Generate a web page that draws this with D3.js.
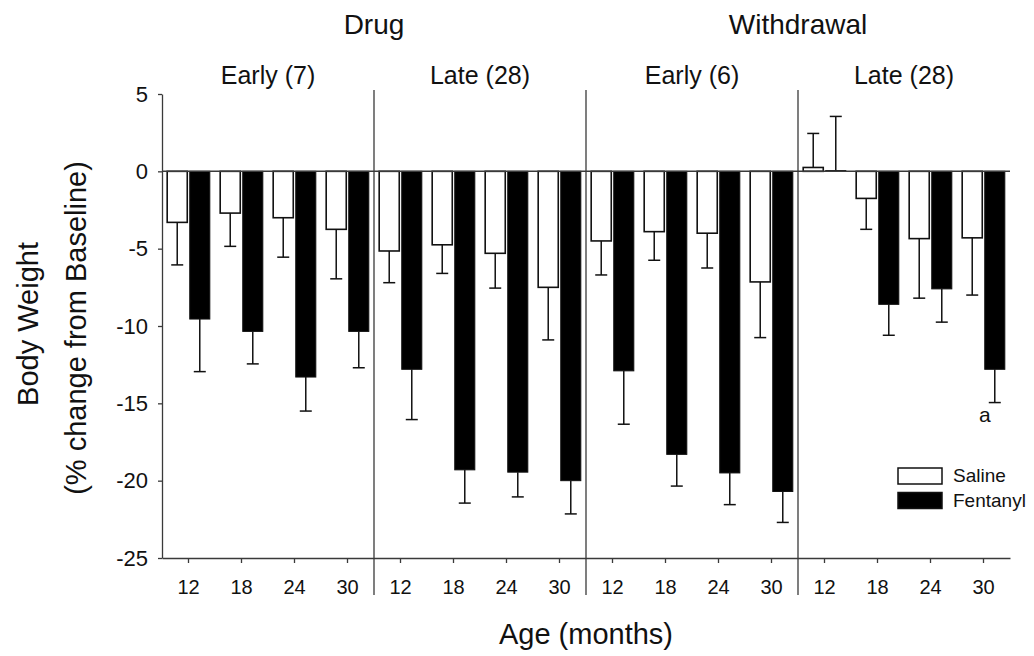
<!DOCTYPE html>
<html><head><meta charset="utf-8">
<script src="https://cdn.jsdelivr.net/npm/d3@7"></script>
<style>
body{margin:0;background:#fff}
svg{display:block}
text{font-family:"Liberation Sans",Arial,sans-serif;fill:#111}
</style>
</head><body>
<svg id="c" width="1034" height="656"></svg>
<script>
// ---- data ----
const phases = ["Drug", "Withdrawal"];
const periods = ["Early (7)", "Late (28)", "Early (6)", "Late (28)"];
const ages = ["12", "18", "24", "30"];
const series = ["Saline", "Fentanyl"];
const salineMean   = [-3.3, -2.7, -3.0, -3.75,  -5.15, -4.75, -5.3, -7.5,  -4.5, -3.9, -4.0, -7.15,  0.25, -1.75, -4.35, -4.3];
const salineSem    = [ 2.75, 2.15, 2.55, 3.2,    2.05,  1.85,  2.25, 3.4,   2.2,  1.85, 2.25, 3.6,   2.2,  2.0,   3.85,  3.7];
const fentanylMean = [-9.55, -10.35, -13.3, -10.35,  -12.8, -19.3, -19.45, -20.0,  -12.9, -18.3, -19.5, -20.7,  0.05, -8.6, -7.6, -12.8];
const fentanylSem  = [ 3.4,   2.1,    2.2,   2.35,    3.25,  2.15,  1.6,    2.15,   3.45,  2.05,  2.05,  2.0,   3.5,  2.0,  2.15,  2.15];
const yTicks = [5, 0, -5, -10, -15, -20, -25];
const annotations = [{ index: 15, series: "Fentanyl", label: "a" }];
const yTitle = ["Body Weight", "(% change from Baseline)"];
const xTitle = "Age (months)";

// ---- layout ----
const svg = d3.select("#c");
const lineCol = "#3a3a3a";
const keys = periods.flatMap((p, i) => ages.map(a => i + "|" + a));
const x = d3.scaleBand().domain(keys).range([162, 1010]);
const x1 = d3.scaleBand().domain(series).range([0, x.bandwidth()]).paddingInner(0.11).paddingOuter(0.23);
const y = d3.scaleLinear().domain([-25, 5]).range([558, 94]);

const rows = keys.map((k, i) => ({
  key: k,
  vals: [
    { s: "Saline", m: salineMean[i], e: salineSem[i] },
    { s: "Fentanyl", m: fentanylMean[i], e: fentanylSem[i] }
  ]
}));
const fillOf = s => s === "Saline" ? "#fff" : "#000";

// panel dividers
const divX = [1, 2, 3].map(i => x(keys[i * 4]));
svg.append("g").selectAll("line").data(divX).join("line")
  .attr("x1", d => d).attr("x2", d => d).attr("y1", 90).attr("y2", 595)
  .attr("stroke", lineCol).attr("stroke-width", 1.3);

// y axis
const gy = svg.append("g").attr("transform", "translate(162,0)")
  .call(d3.axisLeft(y).tickValues(yTicks).tickFormat(d => String(d)).tickSize(4).tickSizeOuter(0).tickPadding(10));
gy.selectAll("text").style("font-size", "22px").style("font-family", '"Liberation Sans",Arial,sans-serif').attr("fill", "#111");
gy.selectAll("line,path").attr("stroke", lineCol).attr("stroke-width", 1.3);

// x axis
const gx = svg.append("g").attr("transform", "translate(0,558)")
  .call(d3.axisBottom(x).tickFormat(k => k.split("|")[1]).tickSize(5).tickSizeOuter(0).tickPadding(17));
gx.selectAll("text").style("font-size", "20px").style("font-family", '"Liberation Sans",Arial,sans-serif').attr("fill", "#111");
gx.selectAll("line,path").attr("stroke", lineCol).attr("stroke-width", 1.3);

// bars
const groups = svg.append("g").selectAll("g").data(rows).join("g")
  .attr("transform", d => `translate(${x(d.key)},0)`);
groups.selectAll("rect").data(d => d.vals).join("rect")
  .attr("x", d => x1(d.s))
  .attr("width", x1.bandwidth())
  .attr("y", d => y(Math.max(0, d.m)))
  .attr("height", d => Math.abs(y(d.m) - y(0)))
  .attr("fill", d => fillOf(d.s))
  .attr("stroke", "#111")
  .attr("stroke-width", d => d.s === "Saline" ? 1.6 : 1);

// error bars
const eb = groups.selectAll("g.eb").data(d => d.vals).join("g").attr("class", "eb");
const endOf = d => d.m < 0 ? d.m - d.e : d.m + d.e;
eb.append("line")
  .attr("x1", d => x1(d.s) + x1.bandwidth() / 2).attr("x2", d => x1(d.s) + x1.bandwidth() / 2)
  .attr("y1", d => y(d.m)).attr("y2", d => y(endOf(d)))
  .attr("stroke", "#111").attr("stroke-width", 1.5);
eb.append("line")
  .attr("x1", d => x1(d.s) + x1.bandwidth() / 2 - 6).attr("x2", d => x1(d.s) + x1.bandwidth() / 2 + 6)
  .attr("y1", d => y(endOf(d))).attr("y2", d => y(endOf(d)))
  .attr("stroke", "#111").attr("stroke-width", 1.5);

// zero line
svg.append("line").attr("x1", 162).attr("x2", 1010).attr("y1", y(0)).attr("y2", y(0))
  .attr("stroke", lineCol).attr("stroke-width", 1.5);

// annotation
annotations.forEach(a => {
  const r = rows[a.index].vals.find(v => v.s === a.series);
  svg.append("text")
    .attr("x", x(rows[a.index].key) + x1(a.series) + x1.bandwidth() / 2 - 10)
    .attr("y", y(endOf(r)) + 19)
    .attr("text-anchor", "middle").style("font-size", "21px").text(a.label);
});

// phase titles
svg.append("g").selectAll("text").data(phases).join("text")
  .attr("x", (d, i) => x(keys[4 + i * 8]))
  .attr("y", 34).attr("text-anchor", "middle").style("font-size", "28px").text(d => d);

// period labels
svg.append("g").selectAll("text").data(periods).join("text")
  .attr("x", (d, i) => (x(keys[i * 4]) + x(keys[i * 4 + 3]) + x.bandwidth()) / 2)
  .attr("y", 84).attr("text-anchor", "middle").style("font-size", "25px").text(d => d);

// y title
svg.append("text").attr("transform", "translate(38,324) rotate(-90)")
  .attr("text-anchor", "middle").style("font-size", "29px").text(yTitle[0]);
svg.append("text").attr("transform", "translate(86,328) rotate(-90)")
  .attr("text-anchor", "middle").style("font-size", "29px").text(yTitle[1]);

// x title
svg.append("text").attr("x", 586).attr("y", 644).attr("text-anchor", "middle")
  .style("font-size", "29px").text(xTitle);

// legend
const lg = svg.append("g").selectAll("g").data(series).join("g")
  .attr("transform", (d, i) => `translate(898,${468 + i * 24.5})`);
lg.append("rect").attr("width", 44).attr("height", 16)
  .attr("fill", d => fillOf(d)).attr("stroke", "#111").attr("stroke-width", 1.5);
lg.append("text").attr("x", 55).attr("y", 14).style("font-size", "19px").text(d => d);
</script>
</body></html>
